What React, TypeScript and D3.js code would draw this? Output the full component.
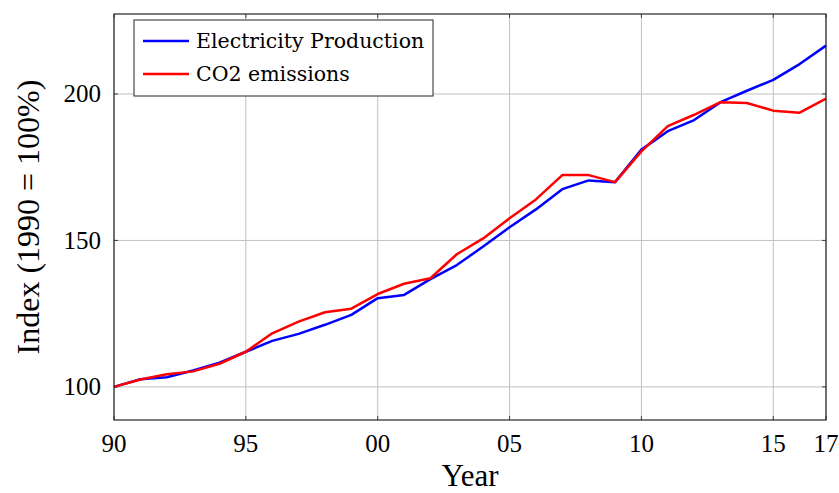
import React from "react";
import * as d3 from "d3";

// Years 1990..2017
const years = d3.range(1990, 2018);

// Index values (1990 = 100)
const electricity = [
  100, 102.6, 103.3, 105.6, 108.3, 112, 115.7, 118.1, 121.2, 124.6,
  130.3, 131.4, 136.8, 141.6, 147.9, 154.5, 160.6, 167.5, 170.5, 169.9,
  181, 187.3, 191.1, 197.2, 201.1, 204.8, 210.2, 216.5,
];
const co2 = [
  100, 102.5, 104.3, 105.3, 107.9, 112, 118.3, 122.3, 125.5, 126.7,
  131.7, 135.2, 137.1, 145.3, 150.7, 157.6, 164, 172.3, 172.3, 169.9,
  180.4, 189, 192.9, 197.2, 196.9, 194.3, 193.6, 198.4,
];

const xTicks = [1990, 1995, 2000, 2005, 2010, 2015, 2017];
const xTickLabels = ["90", "95", "00", "05", "10", "15", "17"];
const yTicks = [100, 150, 200];

const series = [
  { name: "Electricity Production", values: electricity, color: "#0000ff" },
  { name: "CO2 emissions", values: co2, color: "#ff0000" },
];

const W = 839;
const H = 493;
const margin = { top: 14, right: 13, bottom: 73, left: 114 };
const serif = "'Liberation Serif', 'DejaVu Serif', serif";
const legendFont = "'DejaVu Serif', 'Liberation Serif', serif";

const App: React.FC = () => {
  const innerW = W - margin.left - margin.right;
  const innerH = H - margin.top - margin.bottom;

  const x = d3.scaleLinear().domain([1990, 2017]).range([0, innerW]);
  const y = d3.scaleLinear().domain([88.7, 227.3]).range([innerH, 0]);

  const line = d3
    .line<number>()
    .x((_, i) => x(years[i]))
    .y((d) => y(d));

  const tickLen = 4;

  return (
    <svg
      width={W}
      height={H}
      style={{ position: "absolute", left: 0, top: 0, background: "#fff" }}
    >
      <g transform={`translate(${margin.left},${margin.top})`}>
        {/* grid */}
        {xTicks.map((t) => (
          <line key={`gx${t}`} x1={x(t)} x2={x(t)} y1={0} y2={innerH} stroke="#c0c0c0" strokeWidth={1} />
        ))}
        {yTicks.map((t) => (
          <line key={`gy${t}`} x1={0} x2={innerW} y1={y(t)} y2={y(t)} stroke="#c0c0c0" strokeWidth={1} />
        ))}

        {/* tick marks inside frame */}
        {xTicks.map((t) => (
          <g key={`tx${t}`} stroke="#404040" strokeWidth={1}>
            <line x1={x(t)} x2={x(t)} y1={innerH} y2={innerH - tickLen} />
            <line x1={x(t)} x2={x(t)} y1={0} y2={tickLen} />
          </g>
        ))}
        {yTicks.map((t) => (
          <g key={`ty${t}`} stroke="#404040" strokeWidth={1}>
            <line x1={0} x2={tickLen} y1={y(t)} y2={y(t)} />
            <line x1={innerW} x2={innerW - tickLen} y1={y(t)} y2={y(t)} />
          </g>
        ))}

        {/* series */}
        {series.map((s) => (
          <path
            key={s.name}
            d={line(s.values) ?? ""}
            fill="none"
            stroke={s.color}
            strokeWidth={2.5}
            strokeLinejoin="round"
          />
        ))}

        {/* frame */}
        <rect x={0} y={0} width={innerW} height={innerH} fill="none" stroke="#262626" strokeWidth={1.2} />

        {/* tick labels */}
        {xTicks.map((t, i) => (
          <text
            key={`lx${t}`}
            x={x(t)}
            y={innerH + 32}
            textAnchor="middle"
            fontFamily={serif}
            fontSize={25}
          >
            {xTickLabels[i]}
          </text>
        ))}
        {yTicks.map((t) => (
          <text
            key={`ly${t}`}
            x={-13}
            y={y(t)}
            dy="0.34em"
            textAnchor="end"
            fontFamily={serif}
            fontSize={25}
          >
            {t}
          </text>
        ))}

        {/* legend */}
        <g transform="translate(20,6)">
          <rect x={0} y={0} width={299} height={76} fill="#fff" stroke="#262626" strokeWidth={1} />
          {series.map((s, i) => (
            <g key={`lg${s.name}`} transform={`translate(0,${21 + i * 33})`}>
              <line x1={9} x2={55} y1={0} y2={0} stroke={s.color} strokeWidth={2.5} />
              <text x={62} y={0} dy="0.36em" fontFamily={legendFont} fontSize={20.5}>
                {s.name}
              </text>
            </g>
          ))}
        </g>
      </g>

      {/* axis titles */}
      <text
        x={margin.left + innerW / 2}
        y={H - 7}
        textAnchor="middle"
        fontFamily={serif}
        fontSize={31}
      >
        Year
      </text>
      <text
        transform={`translate(39,${margin.top + innerH / 2}) rotate(-90)`}
        textAnchor="middle"
        fontFamily={serif}
        fontSize={32}
      >
        Index (1990 = 100%)
      </text>
    </svg>
  );
};

export default App;
